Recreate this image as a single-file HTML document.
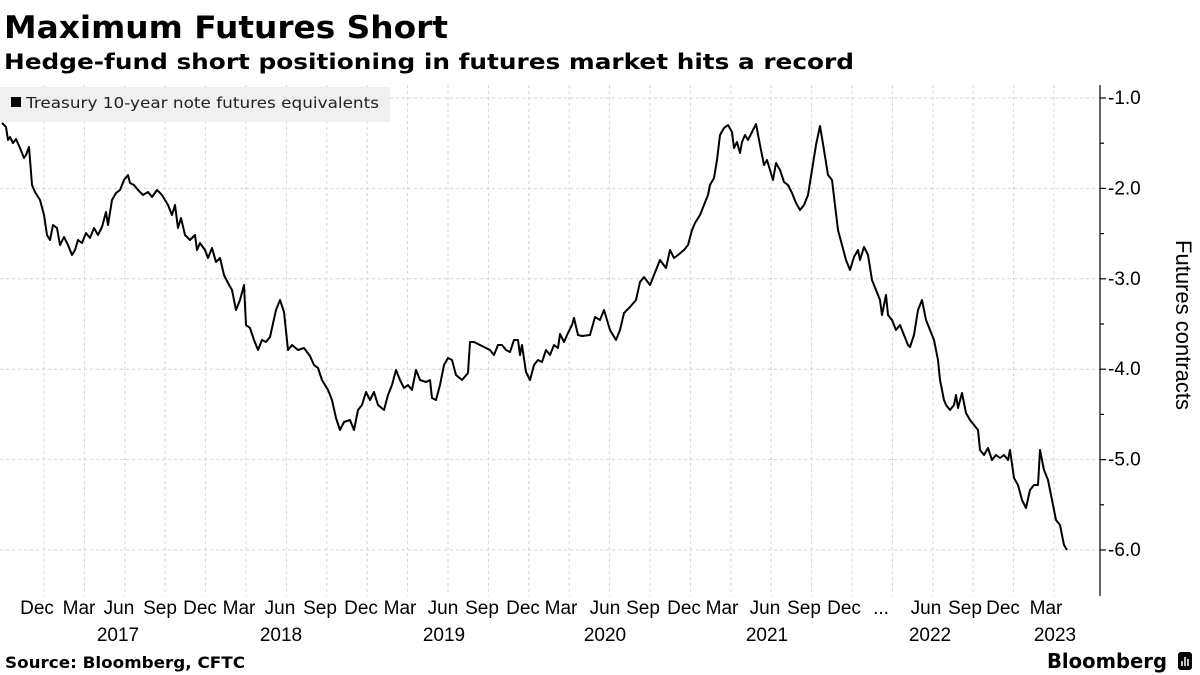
<!DOCTYPE html>
<html><head><meta charset="utf-8"><style>
html,body{margin:0;padding:0;background:#fff;}
svg{display:block;font-family:"DejaVu Sans","Liberation Sans",sans-serif;}
</style></head><body>
<svg width="1200" height="675" viewBox="0 0 1200 675" xmlns="http://www.w3.org/2000/svg">
<text x="4" y="38" font-size="31" font-weight="bold" fill="#000" textLength="444" lengthAdjust="spacingAndGlyphs">Maximum Futures Short</text>
<text x="4" y="69" font-size="21" font-weight="bold" fill="#000" textLength="850" lengthAdjust="spacingAndGlyphs">Hedge-fund short positioning in futures market hits a record</text>
<g stroke="#d4d4d4" stroke-width="1" stroke-dasharray="3,3">
<line x1="0" y1="98" x2="1100" y2="98"/><line x1="0" y1="188.4" x2="1100" y2="188.4"/><line x1="0" y1="278.8" x2="1100" y2="278.8"/><line x1="0" y1="369.2" x2="1100" y2="369.2"/><line x1="0" y1="459.6" x2="1100" y2="459.6"/><line x1="0" y1="550" x2="1100" y2="550"/>
</g>
<g stroke="#d4d4d4" stroke-width="1" stroke-dasharray="3,3" id="vg"></g>
<rect x="0" y="87" width="390" height="35" fill="#f0f0f0"/>
<rect x="11" y="97" width="10" height="10" fill="#000"/>
<text x="26" y="108" font-size="15.5" fill="#222" textLength="353" lengthAdjust="spacingAndGlyphs">Treasury 10-year note futures equivalents</text>
<line x1="1100" y1="85" x2="1100" y2="596" stroke="#000" stroke-width="1.2"/>
<g stroke="#000" stroke-width="1.2">
<line x1="1100" y1="98" x2="1106" y2="98"/><line x1="1100" y1="143.2" x2="1104" y2="143.2"/><line x1="1100" y1="188.4" x2="1106" y2="188.4"/><line x1="1100" y1="233.6" x2="1104" y2="233.6"/><line x1="1100" y1="278.8" x2="1106" y2="278.8"/><line x1="1100" y1="324" x2="1104" y2="324"/><line x1="1100" y1="369.2" x2="1106" y2="369.2"/><line x1="1100" y1="414.4" x2="1104" y2="414.4"/><line x1="1100" y1="459.6" x2="1106" y2="459.6"/><line x1="1100" y1="504.8" x2="1104" y2="504.8"/><line x1="1100" y1="550" x2="1106" y2="550"/>
</g>
<g font-size="19" fill="#000" font-family="Liberation Sans, sans-serif">
<text x="1108" y="104">-1.0</text><text x="1108" y="194.4">-2.0</text><text x="1108" y="284.8">-3.0</text><text x="1108" y="375.2">-4.0</text><text x="1108" y="465.6">-5.0</text><text x="1108" y="556">-6.0</text>
</g>
<text transform="translate(1176,325) rotate(90)" font-size="22" text-anchor="middle" fill="#000" font-family="Liberation Sans, sans-serif">Futures contracts</text>
<polyline fill="none" stroke="#000" stroke-width="2" stroke-linejoin="round" points="2,123 6,127 8,140 10,137 13,143 16,139 20,148 24,158 26,155 29,147 32,185 35,192 40,200 44,215 47,235 50,240 53,225 57,228 60,245 64,237 68,245 72,255 75,250 78,240 82,243 86,233 90,238 94,228 98,235 102,227 106,212 108,225 112,200 116,193 120,190 124,180 128,175 130,183 134,185 138,190 143,195 148,192 152,197 157,190 162,195 168,205 172,215 175,205 178,228 181,218 185,235 190,240 195,235 197,250 200,243 205,250 208,258 212,248 216,262 220,258 224,275 228,283 232,290 236,310 240,300 244,285 246,325 250,328 254,340 258,350 262,340 266,342 270,337 276,310 280,300 284,312 288,350 292,345 298,350 304,348 310,356 314,365 318,368 322,380 328,390 332,400 336,418 340,430 344,422 350,420 354,430 358,410 362,405 366,392 370,400 374,392 378,405 384,410 388,395 392,385 396,370 400,380 404,388 408,385 412,390 416,370 420,380 426,382 430,380 432,398 436,400 440,385 444,365 448,358 452,360 456,375 462,380 468,373 470,342 474,342 480,345 486,348 490,350 494,355 498,345 502,345 506,350 510,352 514,340 518,340 520,355 522,345 526,372 530,380 534,365 538,360 542,362 546,350 550,355 554,345 558,348 560,334 564,342 568,333 572,325 574,318 578,335 582,336 590,335 595,317 600,320 604,310 610,330 616,340 620,330 624,313 630,307 636,300 640,282 644,277 650,285 660,260 666,268 670,250 674,258 678,255 684,250 688,245 692,230 695,223 700,215 704,205 708,195 710,185 714,178 717,160 720,135 724,128 728,125 732,132 734,148 737,142 740,153 742,142 745,135 748,140 752,132 756,124 760,145 764,165 767,160 770,170 773,180 776,163 780,170 784,182 788,185 792,193 796,203 800,210 804,205 808,195 812,170 816,145 820,126 824,150 828,175 832,180 838,230 842,245 846,260 850,270 854,257 858,250 860,260 864,247 868,255 872,280 876,290 880,300 882,315 886,295 888,315 892,320 896,330 900,325 904,335 908,345 910,347 914,335 918,310 922,300 926,320 930,330 934,340 938,360 940,380 944,400 946,405 950,410 954,405 956,395 958,408 962,393 966,413 970,420 974,425 978,430 980,450 984,455 988,448 992,460 996,455 1000,458 1004,455 1008,460 1010,450 1014,478 1018,485 1022,500 1026,508 1030,490 1034,485 1038,485 1040,450 1044,470 1048,480 1052,500 1056,520 1060,525 1064,545 1067,550"/>
<g font-size="19" fill="#000" text-anchor="middle" font-family="Liberation Sans, sans-serif">
<text x="37" y="614">Dec</text><text x="79" y="614">Mar</text><text x="119" y="614">Jun</text><text x="160" y="614">Sep</text><text x="200" y="614">Dec</text><text x="239" y="614">Mar</text><text x="280" y="614">Jun</text><text x="320" y="614">Sep</text><text x="361" y="614">Dec</text><text x="400" y="614">Mar</text><text x="443" y="614">Jun</text><text x="482" y="614">Sep</text><text x="523" y="614">Dec</text><text x="561" y="614">Mar</text><text x="605" y="614">Jun</text><text x="643" y="614">Sep</text><text x="684" y="614">Dec</text><text x="722" y="614">Mar</text><text x="765" y="614">Jun</text><text x="804" y="614">Sep</text><text x="844" y="614">Dec</text><text x="881" y="614">...</text><text x="926" y="614">Jun</text><text x="965" y="614">Sep</text><text x="1003" y="614">Dec</text><text x="1046" y="614">Mar</text>
<text x="118" y="641">2017</text><text x="281" y="641">2018</text><text x="444" y="641">2019</text><text x="605" y="641">2020</text><text x="767" y="641">2021</text><text x="930" y="641">2022</text><text x="1055" y="641">2023</text>
</g>
<text x="5" y="668" font-size="16" font-weight="bold" fill="#000" textLength="240" lengthAdjust="spacingAndGlyphs">Source: Bloomberg, CFTC</text>
<text x="1047" y="668" font-size="20" font-weight="bold" fill="#000" textLength="120" lengthAdjust="spacingAndGlyphs">Bloomberg</text>
<rect x="1178" y="652" width="14" height="18" rx="3" fill="#000"/>
<g stroke="#fff" stroke-width="1.5"><line x1="1182" y1="666" x2="1182" y2="661"/><line x1="1185" y1="666" x2="1185" y2="657"/><line x1="1188" y1="666" x2="1188" y2="659"/></g>
<script>
var g=document.getElementById('vg');
for(var i=0;i<26;i++){var x=44+i*40.4;var l=document.createElementNS('http://www.w3.org/2000/svg','line');l.setAttribute('x1',x);l.setAttribute('x2',x);l.setAttribute('y1',85);l.setAttribute('y2',596);g.appendChild(l);}
</script>
</svg>
</body></html>
